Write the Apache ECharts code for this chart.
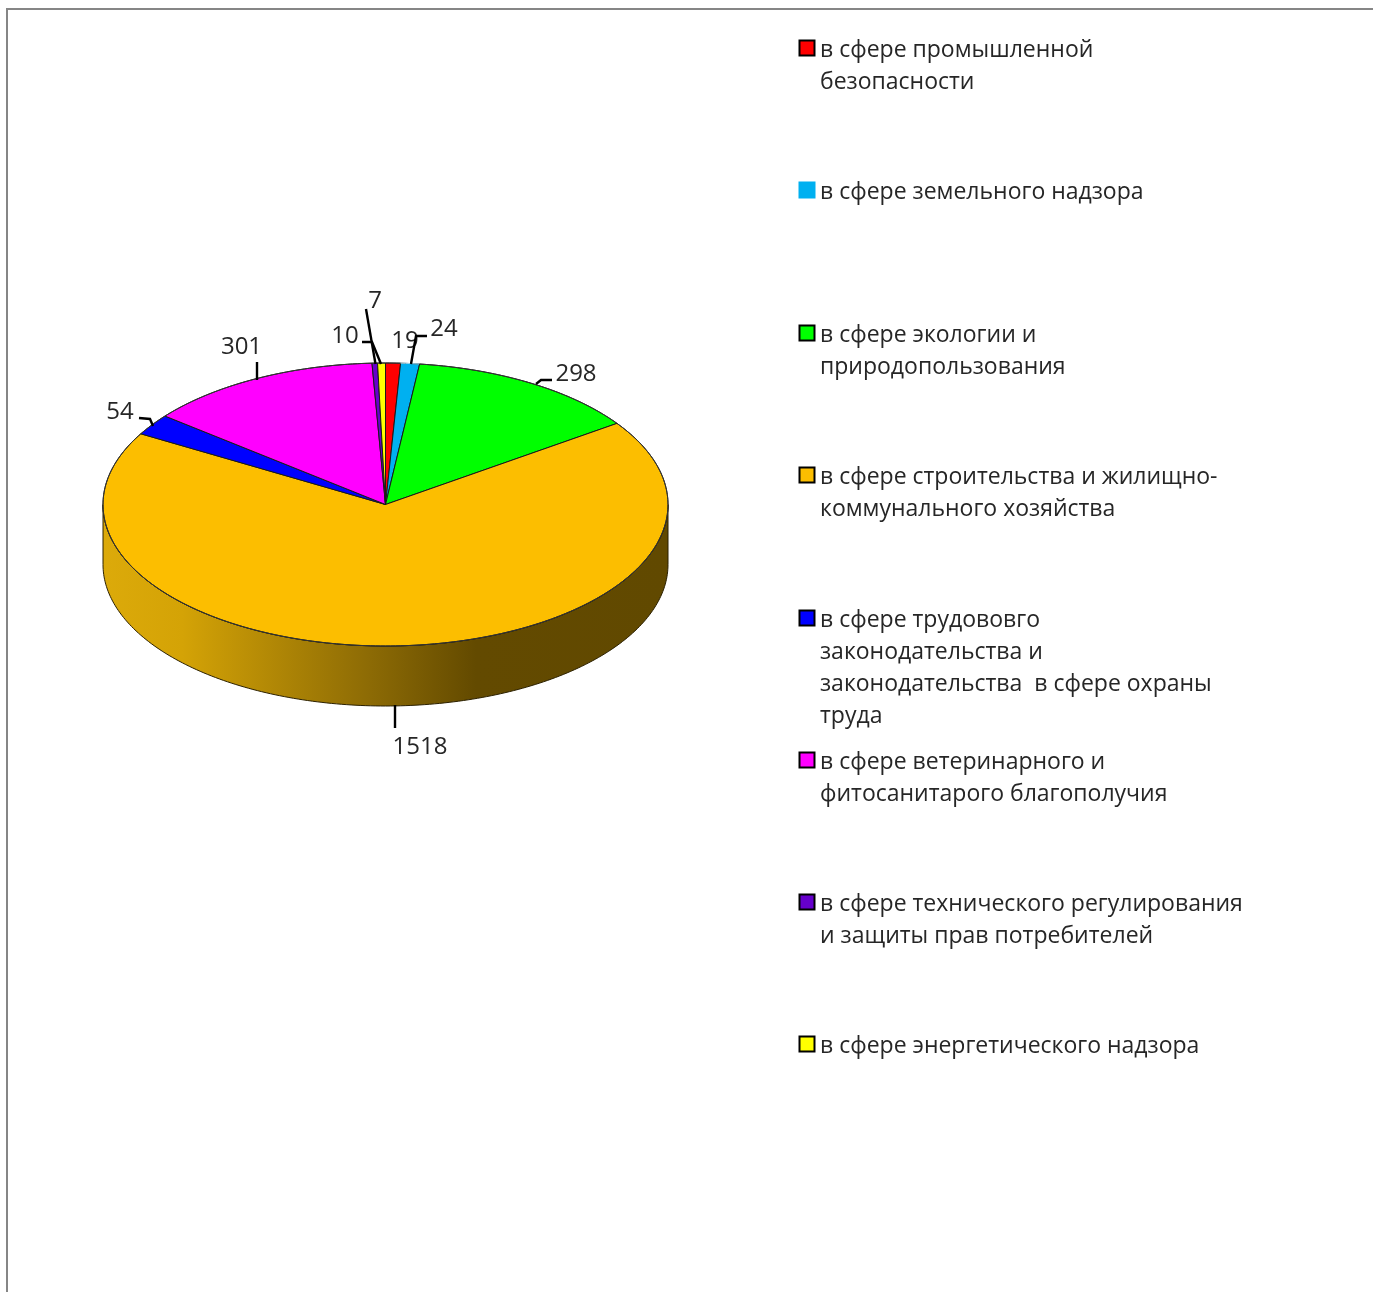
<!DOCTYPE html>
<html><head><meta charset="utf-8">
<style>html,body{margin:0;padding:0;background:#fff}#c{width:1373px;height:1292px}</style>
<script src="https://cdn.jsdelivr.net/npm/echarts@6/dist/echarts.min.js"></script>
</head><body><div id="c"></div>
<script>
// Data
const categories = [
  'в сфере промышленной\nбезопасности',
  'в сфере земельного надзора',
  'в сфере экологии и\nприродопользования',
  'в сфере строительства и жилищно-\nкоммунального хозяйства',
  'в сфере трудововго\nзаконодательства и\nзаконодательства  в сфере охраны\nтруда',
  'в сфере ветеринарного и\nфитосанитарого благополучия',
  'в сфере технического регулирования\nи защиты прав потребителей',
  'в сфере энергетического надзора'
];
const values = [19, 24, 298, 1518, 54, 301, 7, 10];
const colors = ['#ff0000','#00b0f0','#00ff00','#fcbe00','#0000ff','#ff00ff','#6600cc','#ffff00'];

// Layout and style (not data)
const FONT = '"Open Sans"';
const LEGEND_SIZE = 23, LABEL_SIZE = 24, LINE_H = 32.3, TEXT_SHIFT = 2, TEXT_COLOR = '#262626';
const CX = 385.5, CY = 504.5, RX = 282.5, RY = 141.5, DEPTH = 60;
const legendCenters = [48, 190, 333, 475, 618, 760, 902, 1044];
const iconBorders = ['#000','#00b0f0','#000','#000','#000','#000','#000','#000'];
const rimColors = ['#333','#9adcf5','#333','#333','#333','#333','#333','#333'];
const labelPos = [[405,341],[444,329],[576,374],[420,747],[120,412],[241.5,347],[375,301],[345,336]];
const leaders = [
  [],
  [[[411,364],[416,336],[427,336]]],
  [[[536,384],[541,380],[552,380]]],
  [[[395,705],[395,728]]],
  [[[153,426],[150,419],[139,418]]],
  [[[257,380],[257,362]]],
  [[[375.5,364],[366,309]]],
  [[[381,364],[372,342],[362,342]]]
];
const total = values.reduce((a,b)=>a+b,0);
function angleAt(i){ let s=0; for(let k=0;k<i;k++) s+=values[k]; return s/total*2*Math.PI; }
function pt(a,dy){ return [CX+RX*Math.sin(a), CY-RY*Math.cos(a)+(dy||0)]; }
function arcPts(a0,a1,dy){
  const n=Math.max(2,Math.ceil((a1-a0)/(Math.PI/180)));
  const r=[]; for(let i=0;i<=n;i++) r.push(pt(a0+(a1-a0)*i/n,dy)); return r;
}
const sideGradient = {type:'linear',x:CX-RX,y:0,x2:CX+RX,y2:0,global:true,colorStops:[
  {offset:0,color:'#dcaa0a'},{offset:.14,color:'#d4a306'},{offset:.47,color:'#8d6b05'},
  {offset:.66,color:'#634a00'},{offset:1,color:'#614900'}]};

function renderSlice(params, api){
  const i=params.seriesIndex, a0=angleAt(i), a1=a0+api.value(0)/total*2*Math.PI;
  const ch=[];
  const f0=Math.max(a0,Math.PI/2), f1=Math.min(a1,Math.PI*1.5);
  if(f1>f0){
    const top=arcPts(f0,f1,0), bot=arcPts(f0,f1,DEPTH).reverse();
    ch.push({type:'polygon',shape:{points:top.concat(bot)},
      style:{fill:sideGradient,stroke:'#2b2000',lineWidth:1}});
  }
  const arc=arcPts(a0,a1,0);
  ch.push({type:'polygon',shape:{points:[[CX,CY]].concat(arc)},style:{fill:colors[i],stroke:'#1a1a1a',lineWidth:1}});
  ch.push({type:'polyline',shape:{points:arc},style:{fill:null,stroke:rimColors[i],lineWidth:1}});
  leaders[i].forEach(pts=>ch.push({type:'polyline',z2:50,shape:{points:pts},style:{fill:null,stroke:'#000',lineWidth:2.4}}));
  ch.push({type:'text',z2:40,style:{text:String(api.value(0)),x:labelPos[i][0],y:labelPos[i][1],align:'center',verticalAlign:'middle',
    font:LABEL_SIZE+'px '+FONT,fill:TEXT_COLOR}});
  return {type:'group',children:ch};
}

const series = values.map((v,i)=>({
  type:'custom', name:categories[i], coordinateSystem:'none',
  data:[[v]], renderItem:renderSlice, silent:true, animation:false,
  itemStyle:{color:colors[i]}
}));

const legend = categories.map((name,i)=>{
  const n=name.split('\n').length;
  return {
    data:[name], left:798.5, top:legendCenters[i]-9.5, padding:0,
    orient:'vertical', selectedMode:false, itemWidth:15, itemHeight:15, icon:'rect',
    itemStyle:{color:colors[i],borderColor:iconBorders[i],borderWidth:2},
    formatter:s=>s.split('\n').map(l=>'{t|'+l+'}').join('\n'),
    textStyle:{padding:[(n-1)*LINE_H+2*TEXT_SHIFT,0,0,0.5],
      rich:{t:{fontFamily:FONT,fontSize:LEGEND_SIZE,color:TEXT_COLOR,lineHeight:LINE_H}}}
  };
});

const chart = echarts.init(document.getElementById('c'),null,{renderer:'canvas',width:1373,height:1292});
chart.setOption({
  backgroundColor:'#fff', animation:false,
  legend, series,
  graphic:[
    {type:'line',shape:{x1:6,y1:9,x2:1373,y2:9},style:{stroke:'#868686',lineWidth:2}},
    {type:'line',shape:{x1:7,y1:9,x2:7,y2:1292},style:{stroke:'#868686',lineWidth:2}}
  ]
});
</script></body></html>
